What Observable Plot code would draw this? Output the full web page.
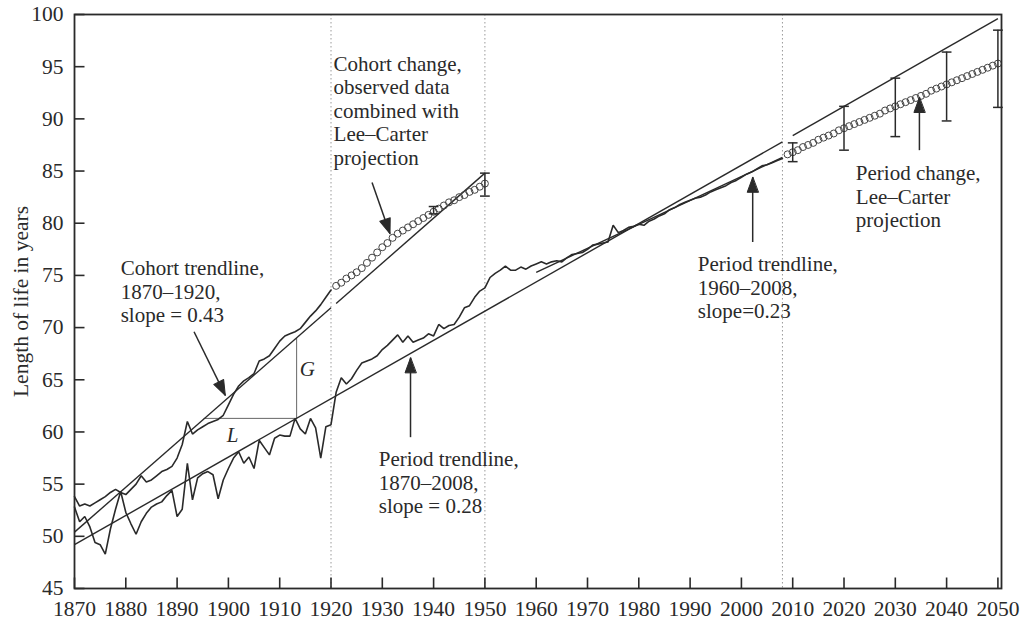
<!DOCTYPE html>
<html><head><meta charset="utf-8">
<script src="https://cdn.jsdelivr.net/npm/d3@7"></script>
<script src="https://cdn.jsdelivr.net/npm/@observablehq/plot@0.6"></script>
<style>body{margin:0;background:#fff;}</style>
</head><body><div id="chart"></div>
<script>
// ---- Data ----
const periodStart = 1870;
const periodValues = [
  52.8, 51.4, 51.9, 50.9, 49.4, 49.2, 48.3, 50.7, 52.6, 54.3,
  52.3, 51.2, 50.2, 51.4, 52.2, 52.8, 53.1, 53.3, 53.9, 54.4,
  51.9, 52.6, 57.0, 53.5, 55.6, 56.0, 56.2, 55.9, 53.6, 55.4,
  56.5, 57.5, 58.1, 57.0, 57.6, 56.5, 59.2, 58.5, 57.8, 59.4,
  59.7, 59.6, 59.6, 61.3, 60.3, 59.8, 61.3, 60.4, 57.5, 60.5,
  60.7, 63.8, 65.2, 64.6, 65.1, 65.9, 66.6, 66.8, 67.0, 67.3,
  67.9, 68.3, 68.8, 69.3, 68.6, 69.2, 68.6, 68.8, 69.0, 69.4,
  69.2, 70.3, 69.9, 70.2, 70.3, 71.0, 71.9, 72.1, 72.9, 73.5,
  73.8, 74.8, 75.2, 75.5, 75.9, 75.5, 75.5, 75.8, 75.6, 75.9,
  76.1, 76.3, 76.1, 76.3, 76.4, 76.3, 76.7, 77.0, 77.1, 77.2,
  77.5, 77.9, 78.0, 78.1, 78.2, 79.8, 79.1, 79.3, 79.6, 79.7,
  79.9, 79.8, 80.2, 80.4, 80.7, 80.9, 81.3, 81.5, 81.8, 82.0,
  82.2, 82.4, 82.5, 82.7, 83.0, 83.2, 83.4, 83.6, 83.9, 84.1,
  84.4, 84.7, 84.9, 85.2, 85.5, 85.6, 85.8, 86.0, 86.2
];
const cohortStart = 1870;
const cohortValues = [
  53.8, 52.9, 53.1, 52.9, 53.2, 53.5, 53.8, 54.2, 54.5, 54.2,
  54.0, 54.5, 55.0, 55.8, 55.2, 55.4, 55.8, 56.2, 56.4, 56.7,
  57.5, 58.8, 61.0, 59.8, 60.2, 60.5, 60.8, 61.0, 61.2, 61.6,
  62.6, 63.6, 64.4, 64.9, 65.2, 65.6, 66.8, 67.0, 67.3, 68.0,
  68.7, 69.2, 69.4, 69.6, 69.9, 70.5, 71.1, 71.6, 72.2, 72.9,
  73.6
];
const cohortProjStart = 1921;
const cohortProjValues = [
  74.0, 74.3, 74.7, 75.0, 75.3, 75.7, 76.2, 76.7, 77.2, 77.7,
  78.1, 78.6, 79.0, 79.3, 79.6, 79.9, 80.2, 80.5, 80.8, 81.1,
  81.4, 81.7, 82.0, 82.2, 82.5, 82.7, 83.0, 83.2, 83.5, 83.8
];
const periodProjStart = 2009;
const periodProjValues = [
  86.6, 86.8, 87.0, 87.3, 87.5, 87.7, 88.0, 88.2, 88.4, 88.6,
  88.9, 89.1, 89.3, 89.5, 89.7, 89.9, 90.1, 90.3, 90.5, 90.8,
  91.0, 91.2, 91.4, 91.6, 91.8, 92.0, 92.2, 92.4, 92.7, 92.9,
  93.1, 93.3, 93.5, 93.7, 93.9, 94.1, 94.3, 94.5, 94.7, 94.9,
  95.1, 95.3
];
const errYears = [1940, 1950, 2010, 2020, 2030, 2040, 2050];
const errLow   = [80.9, 82.6, 85.9, 87.0, 88.3, 89.8, 91.1];
const errHigh  = [81.6, 84.8, 87.7, 91.2, 93.9, 96.4, 98.5];

// trendlines: start year/value, end year/value
const trendX1 = [1870, 1921, 1870, 2010, 1960];
const trendY1 = [50.4, 72.3, 49.2, 88.4, 75.3];
const trendX2 = [1920, 1950, 2008, 2050, 2008];
const trendY2 = [71.9, 84.8, 87.8, 99.6, 86.3];

// L / G construction
const guideX1 = [1895.2, 1913.3];
const guideY1 = [61.3, 61.3];
const guideX2 = [1913.3, 1913.3];
const guideY2 = [61.3, 69.0];
const guideLabels = ["L", "G"];
const guideLabelX = [1900.8, 1915.4];
const guideLabelY = [59.65, 66.0];

const dividerYears = [1920, 1950, 2008];
const xTicks = [1870,1880,1890,1900,1910,1920,1930,1940,1950,1960,1970,1980,1990,2000,2010,2020,2030,2040,2050];
const yTicks = [45,50,55,60,65,70,75,80,85,90,95,100];

const noteTexts = [
  "Cohort trendline,\n1870–1920,\nslope = 0.43",
  "Cohort change,\nobserved data\ncombined with\nLee–Carter\nprojection",
  "Period trendline,\n1870–2008,\nslope = 0.28",
  "Period trendline,\n1960–2008,\nslope=0.23",
  "Period change,\nLee–Carter\nprojection"
];
const noteX = [1879.0, 1920.5, 1929.3, 1991.5, 2022.3];
const noteY = [76.6, 96.2, 58.3, 77.0, 85.7];

const arrowX1 = [1893.3, 1928.0, 1935.5, 2002.2, 2034.7];
const arrowY1 = [69.6, 83.9, 59.5, 78.2, 87.0];
const arrowX2 = [1899.4, 1931.5, 1935.5, 2002.2, 2034.7];
const arrowY2 = [63.5, 79.0, 67.1, 84.4, 92.05];

// ---- Build tables ----
const series = (start, vals) => vals.map((v, i) => ({year: start + i, value: v}));
const period = series(periodStart, periodValues);
const cohort = series(cohortStart, cohortValues);
const cohortProj = series(cohortProjStart, cohortProjValues);
const periodProj = series(periodProjStart, periodProjValues);
const errs = errYears.map((y, i) => ({year: y, lo: errLow[i], hi: errHigh[i]}));
const trends = trendX1.map((x, i) => ({x1: x, y1: trendY1[i], x2: trendX2[i], y2: trendY2[i]}));
const guides = guideX1.map((x, i) => ({x1: x, y1: guideY1[i], x2: guideX2[i], y2: guideY2[i]}));
const guideText = guideLabels.map((t, i) => ({t, x: guideLabelX[i], y: guideLabelY[i]}));
const notes = noteTexts.map((t, i) => ({t, x: noteX[i], y: noteY[i]}));

const ink = "#2a2a2a";
const W = 1023, H = 624, mL = 74, mR = 22, mT = 14, mB = 36;
const tickLenX = 11, tickLenY = 10;
const xDomain = [1870, 2050.7], yDomain = [45, 100];
const common = {
  width: W, height: H,
  marginLeft: mL, marginRight: mR, marginTop: mT, marginBottom: mB,
  x: {domain: xDomain},
  y: {domain: yDomain}
};
const probe = Plot.plot({...common, marks: []});
const sx = probe.scale("x"), sy = probe.scale("y");
// inward tick marks, length expressed in pixels through the scales
const yTickTop = sy.invert(sy.apply(yDomain[0]) - tickLenX);
const xTickEnd = sx.invert(sx.apply(xDomain[0]) + tickLenY);
const xTickMarks = xTicks.map(t => ({x: t, y1: yDomain[0], y2: yTickTop}));
const yTickMarks = yTicks.map(v => ({y: v, x1: xDomain[0], x2: xTickEnd}));

const arrows = arrowX1.map((x, i) => {
  const dx = sx.apply(arrowX2[i]) - sx.apply(x);
  const dy = sy.apply(arrowY2[i]) - sy.apply(arrowY1[i]);
  return {x1: x, y1: arrowY1[i], x: arrowX2[i], y: arrowY2[i], ang: Math.atan2(dx, -dy) * 180 / Math.PI};
});
const headShape = {
  draw(ctx, l) {
    const w = 5.5;
    ctx.moveTo(0, -l); ctx.lineTo(-w, 0); ctx.lineTo(w, 0); ctx.closePath();
  }
};
const capSymbol = {
  draw(ctx, size) { const w = Math.sqrt(size) / 2; ctx.moveTo(-w, 0); ctx.lineTo(w, 0); }
};

const chart = Plot.plot({
  ...common,
  style: {fontFamily: "'Liberation Serif', serif", fontSize: "21px", color: ink, background: "#fff"},
  marks: [
    Plot.ruleX(dividerYears, {x: d => d, stroke: "#9a9a9a", strokeWidth: 1, strokeDasharray: "1.5,2.5"}),
    Plot.axisX({ticks: xTicks, tickFormat: d => String(d), tickSize: 0, tickPadding: 12, fontSize: 21.5, label: null}),
    Plot.axisY({ticks: yTicks, tickFormat: d => String(d), tickSize: 0, tickPadding: 11, fontSize: 21.5,
      label: "Length of life in years", labelAnchor: "center", labelOffset: 62, labelArrow: "none"}),
    Plot.link(xTickMarks, {x1: "x", x2: "x", y1: "y1", y2: "y2", stroke: ink, strokeWidth: 1.6}),
    Plot.link(yTickMarks, {x1: "x1", x2: "x2", y1: "y", y2: "y", stroke: ink, strokeWidth: 1.6}),
    Plot.link(guides, {x1: "x1", y1: "y1", x2: "x2", y2: "y2", stroke: "#666", strokeWidth: 1}),
    Plot.text(guideText, {x: "x", y: "y", text: "t", fontStyle: "italic", fontSize: 21, fill: ink}),
    Plot.link(trends, {x1: "x1", y1: "y1", x2: "x2", y2: "y2", stroke: ink, strokeWidth: 1.4}),
    Plot.line(period, {x: "year", y: "value", stroke: ink, strokeWidth: 1.6, strokeLinejoin: "miter"}),
    Plot.line(cohort, {x: "year", y: "value", stroke: ink, strokeWidth: 1.6, strokeLinejoin: "miter"}),
    Plot.dot(cohortProj, {x: "year", y: "value", r: 3.5, stroke: "#444", strokeWidth: 1, fill: "none"}),
    Plot.dot(periodProj, {x: "year", y: "value", r: 3.5, stroke: "#444", strokeWidth: 1, fill: "none"}),
    Plot.ruleX(errs, {x: "year", y1: "lo", y2: "hi", stroke: ink, strokeWidth: 1.5}),
    Plot.dot(errs, {x: "year", y: "lo", symbol: capSymbol, r: 5.5, stroke: ink, strokeWidth: 1.5}),
    Plot.dot(errs, {x: "year", y: "hi", symbol: capSymbol, r: 5.5, stroke: ink, strokeWidth: 1.5}),
    Plot.link(arrows, {x1: "x1", y1: "y1", x2: "x", y2: "y", stroke: ink, strokeWidth: 1.5}),
    Plot.vector(arrows, {x: "x", y: "y", length: 15, rotate: "ang", anchor: "end", shape: headShape,
      stroke: ink, fill: ink, strokeWidth: 1}),
    Plot.text(notes, {x: "x", y: "y", text: "t", textAnchor: "start", lineAnchor: "top", lineHeight: 1.12,
      fontSize: 21, fill: ink}),
    Plot.frame({stroke: ink, strokeWidth: 1.8})
  ]
});
document.getElementById("chart").appendChild(chart);
</script>
</body></html>
